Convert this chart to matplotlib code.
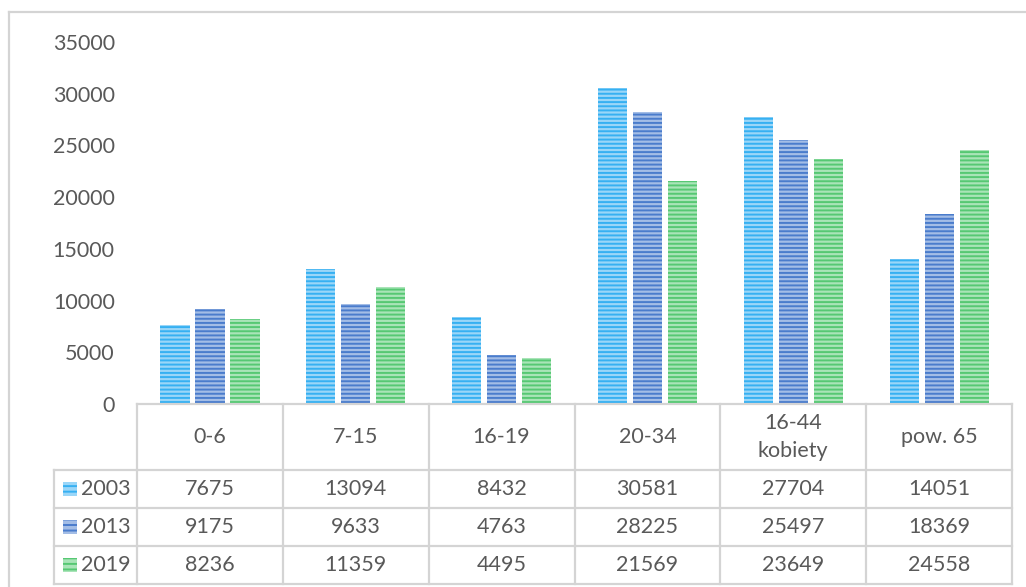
import matplotlib
matplotlib.use("Agg")
import matplotlib.pyplot as plt
from matplotlib.patches import Rectangle
from matplotlib.lines import Line2D
import matplotlib.transforms as mtransforms

categories = ["0-6", "7-15", "16-19", "20-34", "16-44\nkobiety", "pow. 65"]
series_names = ["2003", "2013", "2019"]
v2003 = [7675, 13094, 8432, 30581, 27704, 14051]
v2013 = [9175, 9633, 4763, 28225, 25497, 18369]
v2019 = [8236, 11359, 4495, 21569, 23649, 24558]
yticks = [0, 5000, 10000, 15000, 20000, 25000, 30000, 35000]

series = [v2003, v2013, v2019]
face_colors = ["#9ad6f8", "#a3bde6", "#a9e4b8"]
hatch_colors = ["#36b0f2", "#4a7ccc", "#56c873"]

plt.rcParams["font.family"] = ["Lato", "DejaVu Sans"]
plt.rcParams["hatch.linewidth"] = 1.4

W, H = 1026, 587
fig = plt.figure(figsize=(W / 100, H / 100), dpi=100)
fig.patch.set_facecolor("white")

def fx(px):
    return px / W

def fy(py):
    return 1 - py / H

FS = 15.5
ax_left, ax_right, ax_top, ax_bottom = 137, 1012, 42, 404
ax = fig.add_axes([fx(ax_left), fy(ax_bottom), fx(ax_right - ax_left), (ax_bottom - ax_top) / H])
ax.set_xlim(-0.5, len(categories) - 0.5)
ax.set_ylim(0, 35000)

text_color = "#595959"
grid_color = "#d4d4d4"

width = 0.2
offsets = [-0.24, 0.0, 0.24]
x = list(range(len(categories)))
for vals, off, fc, hc in zip(series, offsets, face_colors, hatch_colors):
    ax.bar([xi + off for xi in x], vals, width=width, color=fc, edgecolor=hc,
           linewidth=0, hatch="----")

for s in ax.spines.values():
    s.set_visible(False)
ax.set_xticks([])
ax.set_yticks(yticks)
ax.set_yticklabels([str(t) for t in yticks], fontsize=FS, color=text_color)
ax.tick_params(axis="y", length=0, pad=16)

# table drawn in figure pixel space, columns aligned to data x
blend = mtransforms.blended_transform_factory(ax.transData, fig.transFigure)
row_lines = [404, 470, 508, 546, 584]
label_left = 54
lw = 1.6

fig.add_artist(Line2D([fx(ax_left), fx(ax_right)], [fy(404), fy(404)], color=grid_color, lw=lw))
for ry in row_lines[1:]:
    fig.add_artist(Line2D([fx(label_left), fx(ax_right)], [fy(ry), fy(ry)], color=grid_color, lw=lw))
for i in range(len(categories) + 1):
    xb = i - 0.5
    ax.add_line(Line2D([xb, xb], [fy(404), fy(584)], transform=blend, color=grid_color,
                       lw=lw, clip_on=False))
fig.add_artist(Line2D([fx(label_left), fx(label_left)], [fy(470), fy(584)], color=grid_color, lw=lw))

for i, c in enumerate(categories):
    ax.text(i, fy((404 + 470) / 2), c, transform=blend, ha="center", va="center",
            fontsize=FS, color=text_color, linespacing=1.45, clip_on=False)

for r, (name, vals, fc, hc) in enumerate(zip(series_names, series, face_colors, hatch_colors)):
    yc = (row_lines[r + 1] + row_lines[r + 2]) / 2
    for i, v in enumerate(vals):
        ax.text(i, fy(yc), str(v), transform=blend, ha="center", va="center",
                fontsize=FS, color=text_color, clip_on=False)
    fig.add_artist(Rectangle((fx(63), fy(yc + 7)), fx(14), 14 / H, facecolor=fc,
                             edgecolor=hc, linewidth=0, hatch="---"))
    fig.text(fx(81), fy(yc), name, ha="left", va="center", fontsize=FS, color=text_color)

fig.add_artist(Line2D([fx(9), fx(9)], [fy(12), 0], color=grid_color, lw=1.6))
fig.add_artist(Line2D([fx(9), 1], [fy(12), fy(12)], color=grid_color, lw=1.6))

fig.savefig("out.png", dpi=100, facecolor="white")
